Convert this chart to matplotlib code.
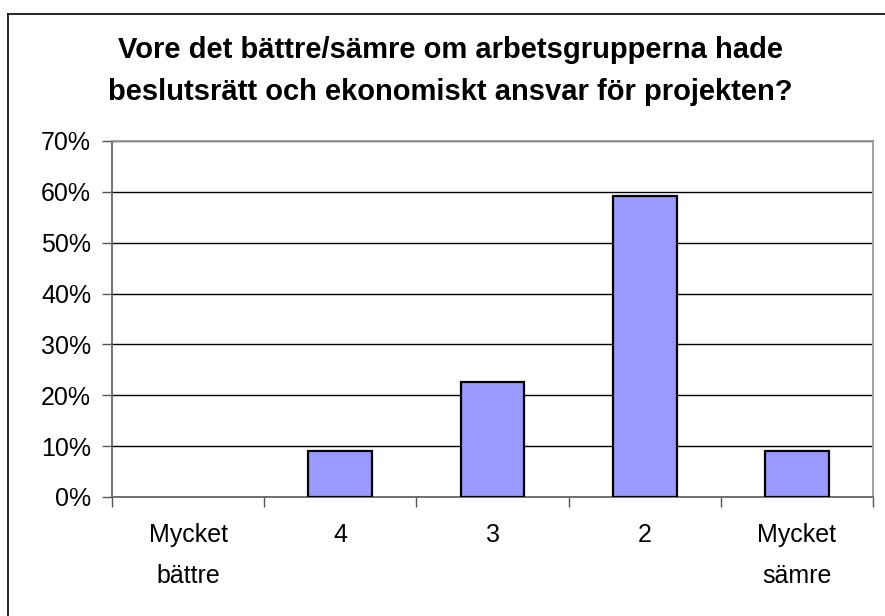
import matplotlib
matplotlib.use("Agg")
import matplotlib.pyplot as plt
from matplotlib.lines import Line2D
from matplotlib.ticker import FixedLocator, FuncFormatter

categories = ["Mycket\nbättre", "4", "3", "2", "Mycket\nsämre"]
values = [0.0, 9.1, 22.7, 59.1, 9.1]
yticks = [0, 10, 20, 30, 40, 50, 60, 70]
title = "Vore det bättre/sämre om arbetsgrupperna hade\nbeslutsrätt och ekonomiskt ansvar för projekten?"

plt.rcParams['font.family'] = ['Liberation Sans', 'DejaVu Sans']

W, H = 885, 616
fig = plt.figure(figsize=(W / 100, H / 100), dpi=100)
fig.patch.set_facecolor("white")

ax = fig.add_axes([112 / W, (H - 497) / H, 761 / W, 356 / H])
x = list(range(len(categories)))
lws = [1.6 if v > 0 else 0 for v in values]
ax.bar(x, values, width=0.42, color="#9999FF", edgecolor="black", linewidth=lws, zorder=3)

ax.set_xlim(-0.5, len(categories) - 0.5)
ax.set_ylim(0, 70)
ax.set_yticks(yticks)
ax.yaxis.set_major_formatter(FuncFormatter(lambda v, p: f"{int(v)}%"))
ax.yaxis.grid(True, color="black", linewidth=1.0, zorder=0)
ax.set_axisbelow(True)

ax.set_xticks(x)
ax.set_xticklabels(categories, fontsize=18, linespacing=1.85)
ax.xaxis.set_minor_locator(FixedLocator([i - 0.5 for i in range(len(categories) + 1)]))
ax.tick_params(axis="x", which="major", length=0, pad=19)
ax.tick_params(axis="x", which="minor", length=7, width=1, color="#555555")
ax.tick_params(axis="y", which="major", length=7, width=1, color="#555555", labelsize=18, pad=8)

for s in ["left", "bottom"]:
    ax.spines[s].set_color("#666666")
    ax.spines[s].set_linewidth(1.3)
for s in ["top", "right"]:
    ax.spines[s].set_color("#999999")
    ax.spines[s].set_linewidth(1.3)

fig.text(450 / W, 1 - 71 / H, title, ha="center", va="center", fontsize=21,
         fontweight="bold", linespacing=1.6)

# outer chart frame (top and left edges visible)
fig.add_artist(Line2D([8 / W, 1.0], [1 - 14 / H, 1 - 14 / H], transform=fig.transFigure,
                      color="black", linewidth=1.2))
fig.add_artist(Line2D([8 / W, 8 / W], [0.0, 1 - 14 / H], transform=fig.transFigure,
                      color="black", linewidth=1.2))

fig.savefig("out.png", dpi=100)
